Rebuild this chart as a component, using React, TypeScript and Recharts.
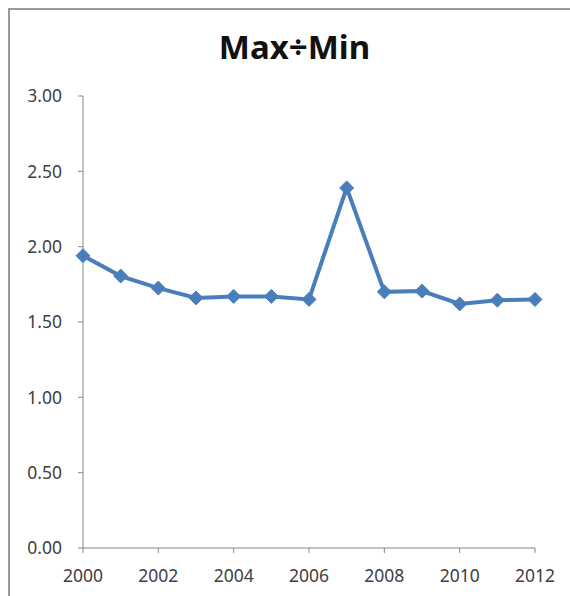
import React from 'react'
import { LineChart, Line, XAxis, YAxis } from 'recharts'

const years = [2000, 2001, 2002, 2003, 2004, 2005, 2006, 2007, 2008, 2009, 2010, 2011, 2012]
const ratios = [1.94, 1.805, 1.725, 1.66, 1.67, 1.67, 1.65, 2.39, 1.70, 1.705, 1.62, 1.645, 1.65]
const xTicks = [2000, 2002, 2004, 2006, 2008, 2010, 2012]
const yTicks = [0, 0.5, 1, 1.5, 2, 2.5, 3]

const data = years.map((year, i) => ({ year, ratio: ratios[i] }))

const BLUE = '#4a7ebb'
const AXIS = '#868686'
const FONT = '"Noto Sans", Arial, sans-serif'

function Diamond({ cx, cy }: any) {
  if (cx == null || cy == null) return null
  const r = 7
  return (
    <polygon
      points={`${cx},${cy - r} ${cx + r},${cy} ${cx},${cy + r} ${cx - r},${cy}`}
      fill={BLUE}
      stroke={BLUE}
      strokeWidth={1}
    />
  )
}

export default function App() {
  return (
    <div style={{ position: 'relative', width: 570, height: 596, overflow: 'hidden', background: '#fff' }}>
      <style>{'body{margin:0;overflow:hidden}'}</style>
      {/* chart frame, only left and top edges are in view */}
      <div
        style={{
          position: 'absolute', left: 8, top: 8, width: 640, height: 640,
          borderLeft: '2px solid #999', borderTop: '2px solid #999', boxSizing: 'border-box',
        }}
      />
      <div
        style={{
          position: 'absolute', left: 0, top: 30, width: 589, textAlign: 'center',
          fontFamily: FONT, fontWeight: 700, fontSize: 33, lineHeight: '33px', color: '#111',
        }}
      >
        Max÷Min
      </div>
      <div style={{ position: 'absolute', left: 0, top: 0 }}>
        <LineChart width={570} height={596} data={data} margin={{ top: 96, right: 35, left: 0, bottom: 18 }}>
          <XAxis
            dataKey="year"
            type="number"
            domain={[2000, 2012]}
            ticks={xTicks}
            height={30}
            stroke={AXIS}
            tickSize={5}
            tickMargin={17}
            tick={{ fill: '#404040', fontSize: 17.5, fontFamily: FONT }}
          />
          <YAxis
            type="number"
            domain={[0, 3]}
            ticks={yTicks}
            width={83}
            stroke={AXIS}
            tickSize={5}
            tickMargin={16}
            tickFormatter={(v: number) => v.toFixed(2)}
            tick={{ fill: '#404040', fontSize: 17.5, fontFamily: FONT }}
          />
          <Line
            dataKey="ratio"
            stroke={BLUE}
            strokeWidth={4}
            dot={<Diamond />}
            activeDot={false}
            isAnimationActive={false}
          />
        </LineChart>
      </div>
    </div>
  )
}
